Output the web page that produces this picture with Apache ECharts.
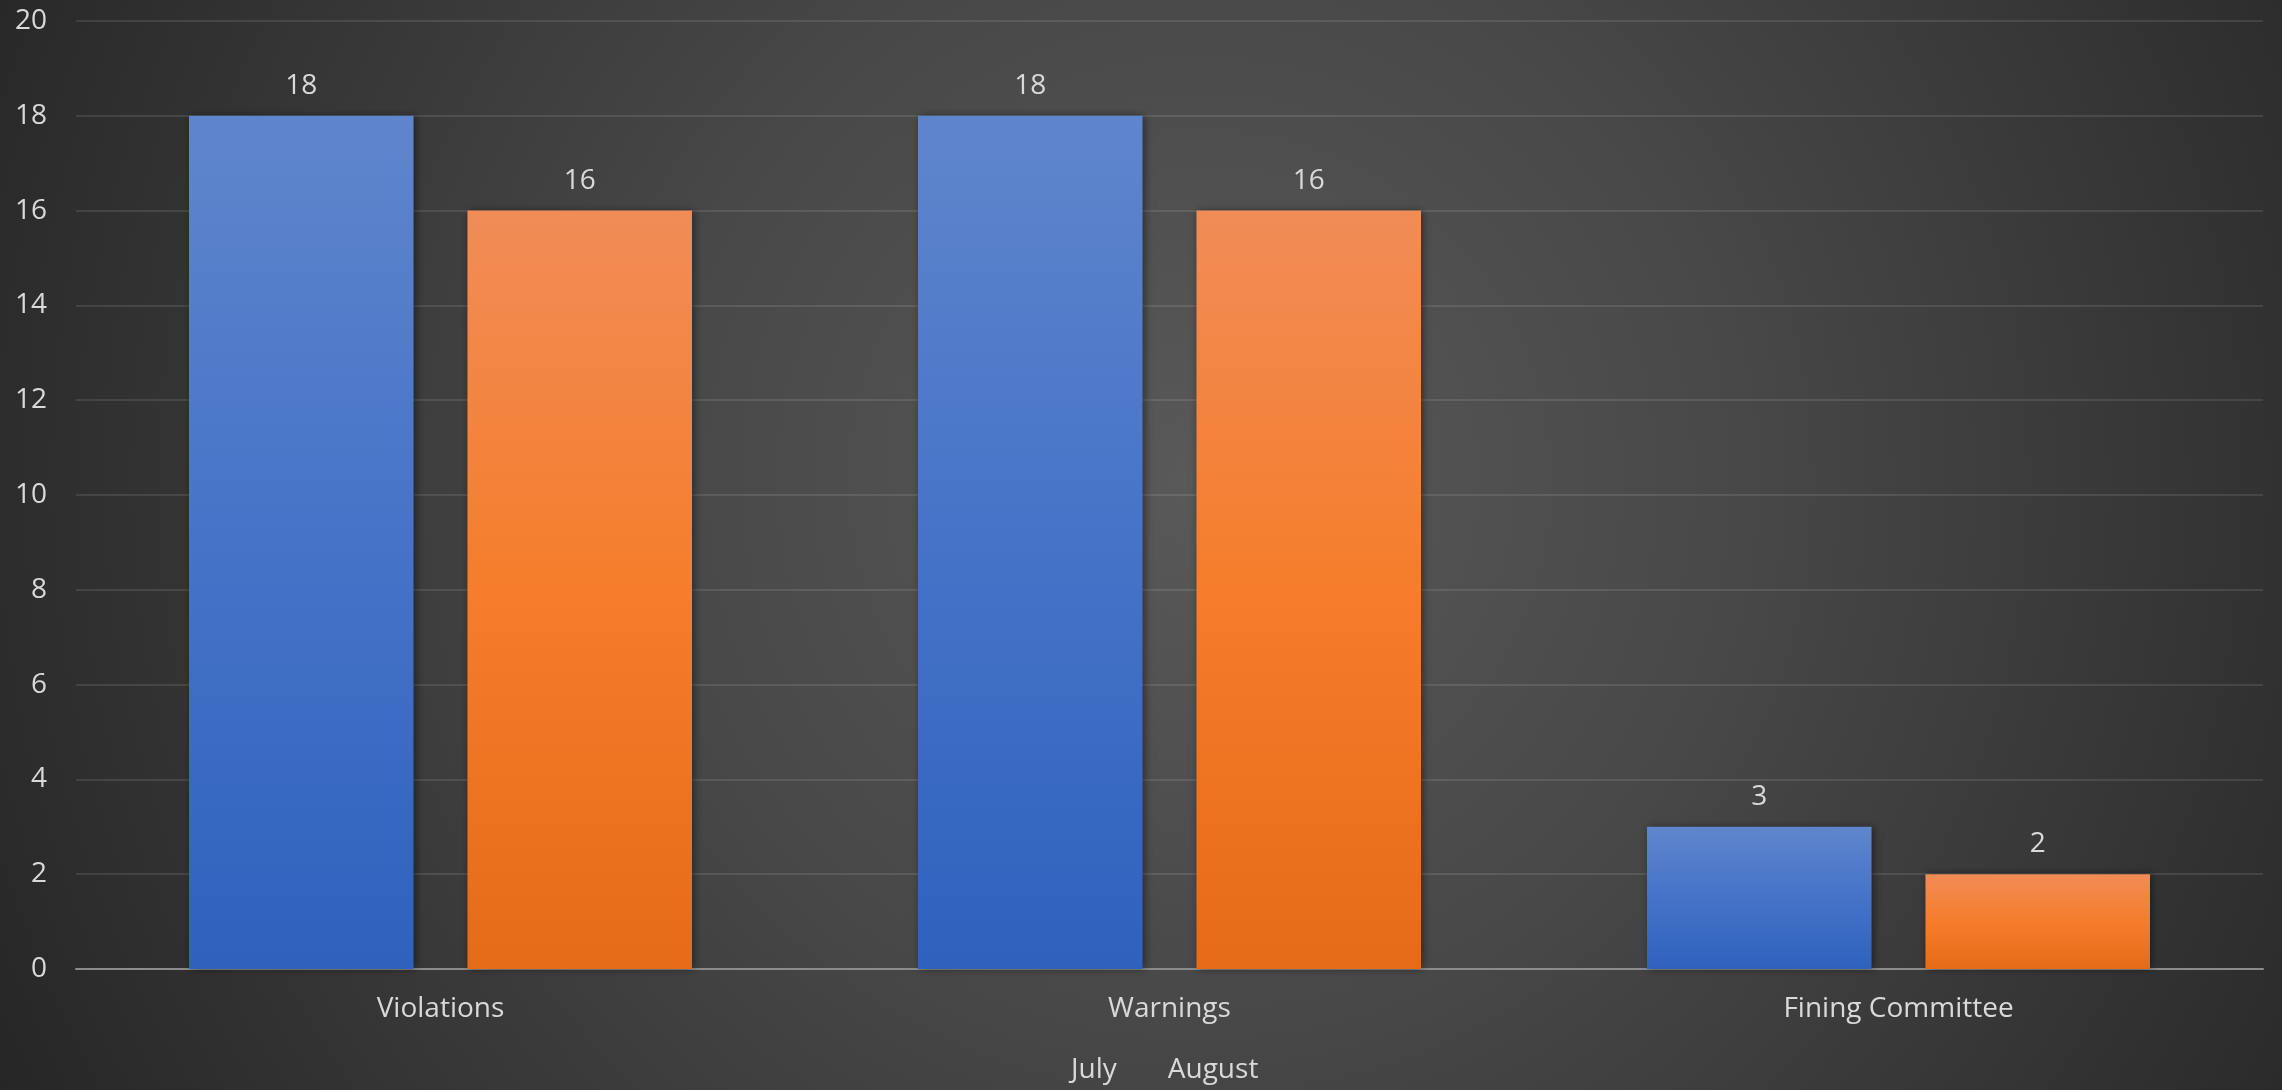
<!DOCTYPE html>
<html>
<head>
<meta charset="utf-8">
<script src="https://cdn.jsdelivr.net/npm/echarts@6/dist/echarts.min.js"></script>
<style>
  html, body { margin: 0; padding: 0; }
  #chart { width: 2282px; height: 1090px; }
</style>
</head>
<body>
<div id="chart"></div>
<script>
const categories = ['Violations', 'Warnings', 'Fining Committee']
const julyValues = [18, 18, 3]
const augustValues = [16, 16, 2]
const yTicks = { min: 0, max: 20, interval: 2 }

const textColor = '#d9d9d9'
const font = '"Open Sans", "Noto Sans", sans-serif'

const chart = echarts.init(document.getElementById('chart'))

const barGradient = (top, mid, bottom) => new echarts.graphic.LinearGradient(0, 0, 0, 1, [
  { offset: 0, color: top },
  { offset: 0.5, color: mid },
  { offset: 1, color: bottom }
])

const makeSeries = (name, data, colors) => ({
  name,
  type: 'bar',
  data,
  barGap: '24%',
  barCategoryGap: '31%',
  itemStyle: {
    color: barGradient(...colors),
    shadowBlur: 8,
    shadowColor: 'rgba(0, 0, 0, 0.45)',
    shadowOffsetX: 2
  },
  label: {
    show: true,
    position: 'top',
    distance: 16,
    color: textColor,
    fontSize: 28,
    fontFamily: font
  }
})

chart.setOption({
  backgroundColor: {
    type: 'radial',
    x: 1200,
    y: 480,
    r: 1350,
    global: true,
    colorStops: [
      { offset: 0, color: '#595959' },
      { offset: 0.4, color: '#484848' },
      { offset: 1, color: '#262626' }
    ]
  },
  animation: false,
  textStyle: { fontFamily: font },
  grid: {
    left: 76,
    right: 19,
    top: 21,
    bottom: 121
  },
  legend: {
    data: ['July', 'August'],
    top: 1056,
    left: 1066,
    padding: 0,
    itemWidth: 0,
    itemHeight: 0,
    itemGap: 46,
    textStyle: { color: textColor, fontSize: 28, fontFamily: font }
  },
  xAxis: {
    type: 'category',
    data: categories,
    axisLine: { lineStyle: { color: '#8c8c8c', width: 2 } },
    axisTick: { show: false },
    axisLabel: { color: textColor, fontSize: 28, margin: 26, fontFamily: font }
  },
  yAxis: {
    type: 'value',
    min: yTicks.min,
    max: yTicks.max,
    interval: yTicks.interval,
    axisLine: { show: false },
    axisTick: { show: false },
    axisLabel: { color: textColor, fontSize: 28, margin: 29, fontFamily: font },
    splitLine: { lineStyle: { color: 'rgba(255, 255, 255, 0.1)', width: 2 } }
  },
  series: [
    makeSeries('July', julyValues, ['#5f86cc', '#4673c8', '#2e62bd']),
    makeSeries('August', augustValues, ['#f18c57', '#f57d2b', '#e56b17'])
  ]
})
</script>
</body>
</html>
